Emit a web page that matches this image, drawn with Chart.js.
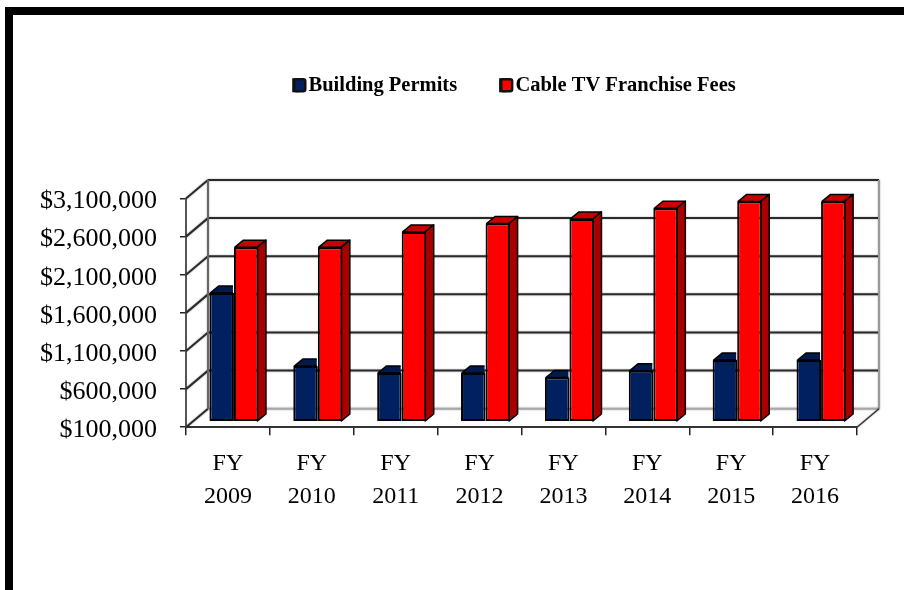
<!DOCTYPE html>
<html>
<head>
<meta charset="utf-8">
<script src="https://cdn.jsdelivr.net/npm/chart.js@4"></script>
<style>
html, body { margin: 0; padding: 0; background: #fff; overflow: hidden; }
.wrap { position: relative; width: 904px; height: 590px; }
.frame { position: absolute; left: 5px; top: 7px; right: 0; bottom: 0; border-top: 8px solid #000; border-left: 8px solid #000; }
canvas { position: absolute; left: 0; top: 0; }
</style>
</head>
<body>
<div class="wrap">
    <div class="frame"></div>
    <canvas id="myChart"></canvas>
</div>
<script>
const categories = [['FY', '2009'], ['FY', '2010'], ['FY', '2011'], ['FY', '2012'], ['FY', '2013'], ['FY', '2014'], ['FY', '2015'], ['FY', '2016']];
const buildingPermits = [1790000, 830000, 740000, 740000, 680000, 770000, 910000, 910000];
const cableFees = [2390000, 2390000, 2590000, 2700000, 2760000, 2900000, 2990000, 2990000];
const yMin = 100000;
const yMax = 3100000;
const yStep = 500000;

const serif = "'Liberation Serif', 'Times New Roman', serif";

// depth of the floor/walls and of the bars, in px
const wallX = 22, wallY = -18.5;
const barShiftX = 6, barShiftY = -5.5;
const barDepthX = 8.5, barDepthY = -7;

// side walls, back wall and floor, placed from the y scale ticks
const wallsPlugin = {
    id: 'walls',
    beforeDatasetsDraw(chart) {
        const ctx = chart.ctx;
        const y = chart.scales.y;
        const a = chart.chartArea;
        ctx.save();
        ctx.lineWidth = 2;
        ctx.shadowColor = 'rgba(0,0,0,0.35)';
        ctx.shadowBlur = 2;
        y.ticks.forEach((t) => {
            const py = y.getPixelForValue(t.value);
            const isFloor = t.value === yMin;
            ctx.strokeStyle = '#2a2a2a';
            ctx.beginPath();
            ctx.moveTo(a.left, py);
            ctx.lineTo(a.left + wallX, py + wallY);
            ctx.stroke();
            ctx.strokeStyle = isFloor ? '#a8a8a8' : '#2a2a2a';
            ctx.beginPath();
            ctx.moveTo(a.left + wallX, py + wallY);
            ctx.lineTo(a.right + wallX, py + wallY);
            ctx.stroke();
        });
        ctx.strokeStyle = '#666';
        ctx.beginPath();
        ctx.moveTo(a.left + wallX, a.top + wallY);
        ctx.lineTo(a.left + wallX, a.bottom + wallY);
        ctx.stroke();
        ctx.strokeStyle = '#999';
        ctx.beginPath();
        ctx.moveTo(a.right + wallX, a.top + wallY);
        ctx.lineTo(a.right + wallX, a.bottom + wallY);
        ctx.stroke();
        ctx.strokeStyle = '#333';
        ctx.lineWidth = 1.5;
        ctx.beginPath();
        ctx.moveTo(a.right, a.bottom);
        ctx.lineTo(a.right + wallX, a.bottom + wallY);
        ctx.stroke();
        ctx.restore();
    }
};

// top and side of each bar, the library then draws the front face on top.
// dataset 0 is painted last, so its depth is cut off at the neighbouring bar
const extrudePlugin = {
    id: 'extrude',
    beforeDatasetDraw(chart, args) {
        const ctx = chart.ctx;
        const ds = chart.data.datasets[args.index];
        ctx.save();
        ctx.translate(barShiftX, barShiftY);
        ctx.lineWidth = 1.5;
        ctx.strokeStyle = '#000';
        ctx.lineJoin = 'round';
        args.meta.data.forEach((bar) => {
            const r = bar.x + bar.width / 2 - 1;
            const l = bar.x - bar.width / 2 + 1;
            ctx.save();
            if (ds.sideHidden) {
                ctx.beginPath();
                ctx.rect(l - 2, bar.y + barDepthY - 2, r - l + 2, barDepthY * -1 + 4);
                ctx.clip();
            }
            ctx.fillStyle = ds.topColor;
            ctx.beginPath();
            ctx.moveTo(l, bar.y);
            ctx.lineTo(l + barDepthX, bar.y + barDepthY);
            ctx.lineTo(r + barDepthX, bar.y + barDepthY);
            ctx.lineTo(r, bar.y);
            ctx.closePath();
            ctx.fill();
            ctx.stroke();
            ctx.restore();
            if (ds.sideHidden) return;
            ctx.fillStyle = ds.sideColor;
            ctx.beginPath();
            ctx.moveTo(r, bar.y);
            ctx.lineTo(r + barDepthX, bar.y + barDepthY);
            ctx.lineTo(r + barDepthX, bar.base + barDepthY);
            ctx.lineTo(r, bar.base);
            ctx.closePath();
            ctx.fill();
            ctx.stroke();
        });
    },
    afterDatasetDraw(chart) {
        chart.ctx.restore();
    }
};

// legend sits well above the plot, and its markers are bigger than the text gap allows
const legendShiftX = 67, legendShiftY = -93;
const legendPlugin = {
    id: 'legendPlace',
    afterLayout(chart) {
        const lg = chart.legend;
        lg.left += legendShiftX;
        lg.right += legendShiftX;
        lg.top += legendShiftY;
        lg.bottom += legendShiftY;
    },
    afterDraw(chart) {
        const ctx = chart.ctx;
        chart.legend.legendHitBoxes.forEach((box, i) => {
            const ds = chart.data.datasets[i];
            ctx.save();
            ctx.fillStyle = ds.backgroundColor;
            ctx.strokeStyle = '#111';
            ctx.lineWidth = 2.5;
            ctx.beginPath();
            ctx.roundRect(box.left + 1, box.top + box.height / 2 - 6, 11, 12, 2);
            ctx.fill();
            ctx.stroke();
            ctx.restore();
        });
    }
};

let ctx = document.getElementById('myChart').getContext('2d');
let myChart = new Chart(ctx, {
    type: 'bar',
    data: {
        labels: categories,
        datasets: [{
            label: 'Building Permits',
            data: buildingPermits,
            base: yMin,
            backgroundColor: '#002060',
            topColor: '#001a4d',
            sideColor: '#00163f',
            sideHidden: true,
            borderColor: '#000',
            borderWidth: 2,
            borderSkipped: false,
            clip: false,
        },{
            label: 'Cable TV Franchise Fees',
            data: cableFees,
            base: yMin,
            backgroundColor: '#ff0000',
            topColor: '#c80000',
            sideColor: '#a80000',
            borderColor: '#000',
            borderWidth: 2,
            borderSkipped: false,
            clip: false,
        }]
    },
    options: {
        responsive: true,
        maintainAspectRatio: false,
        animation: false,
        layout: {
            padding: { top: 125, left: 38, right: 47, bottom: 65 }
        },
        datasets: {
            bar: {
                categoryPercentage: 0.585,
                barPercentage: 1,
            }
        },
        scales: {
            x: {
                grid: { drawOnChartArea: false, tickLength: 8, color: '#222', lineWidth: 1.5 },
                border: { color: '#333', width: 2 },
                ticks: {
                    color: '#000',
                    maxRotation: 0,
                    autoSkip: false,
                    padding: 12,
                    font: { family: serif, size: 24, lineHeight: 1.37 },
                },
            },
            y: {
                min: yMin,
                max: yMax,
                afterFit(scale) { scale.width = 148; },
                grid: { drawOnChartArea: false, tickLength: 6, color: '#222', lineWidth: 1.5 },
                border: { color: '#555', width: 2 },
                ticks: {
                    stepSize: yStep,
                    color: '#000',
                    padding: 23,
                    labelOffset: 3,
                    font: { family: serif, size: 26 },
                    callback: (v) => '$' + v.toLocaleString('en-US'),
                },
            },
        },
        plugins: {
            legend: {
                position: 'top',
                labels: {
                    boxWidth: 5,
                    boxHeight: 12,
                    padding: 43,
                    color: '#000',
                    font: { family: serif, size: 20.5, weight: 'bold' },
                },
            },
            tooltip: { enabled: false },
        },
    },
    plugins: [wallsPlugin, extrudePlugin, legendPlugin],
});
</script>
</body>
</html>
